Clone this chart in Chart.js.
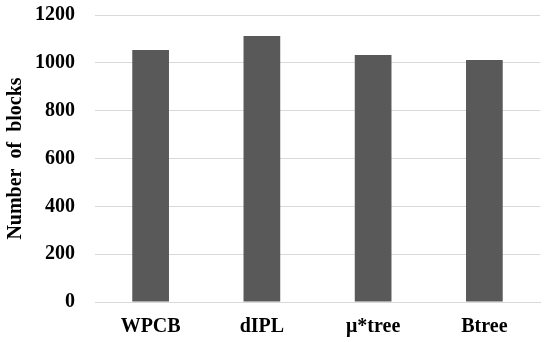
<!DOCTYPE html>
<html>
<head>
<meta charset="utf-8">
<script src="https://cdn.jsdelivr.net/npm/chart.js@4"></script>
<style>
  html, body { margin: 0; padding: 0; background: #fff; }
  #wrap { width: 550px; height: 342px; }
</style>
</head>
<body>
<div id="wrap"><canvas id="grafico" width="550" height="342"></canvas></div>
<script>
// Datos del gráfico
const categorias = ['WPCB', 'dIPL', 'μ*tree', 'Btree'];
const bloques = [1054, 1112, 1033, 1012];
const ticksY = [0, 200, 400, 600, 800, 1000, 1200];

const fuente = { family: '"Liberation Serif", "Times New Roman", serif', weight: 'bold', size: 20 };

const ctx = document.getElementById('grafico').getContext('2d');
new Chart(ctx, {
    type: 'bar',
    data: {
        labels: categorias,
        datasets: [{
            label: 'Number of blocks',
            data: bloques,
            backgroundColor: '#595959',
            borderWidth: 0,
            categoryPercentage: 1,
            barPercentage: 0.33
        }]
    },
    options: {
        responsive: false,
        animation: false,
        layout: { padding: { top: 15, right: 10, left: 1, bottom: 0 } },
        plugins: { legend: { display: false }, tooltip: { enabled: false } },
        scales: {
            x: {
                grid: { display: false, drawTicks: false },
                border: { display: true, color: '#d9d9d9', width: 1 },
                ticks: { color: '#000', font: fuente, padding: 13 },
                afterFit: s => { s.height = 40; }
            },
            y: {
                min: 0,
                max: 1200,
                afterBuildTicks: s => { s.ticks = ticksY.map(v => ({ value: v })); },
                // marcas invisibles: separan las etiquetas sin añadir relleno arriba
                grid: { color: '#d9d9d9', drawTicks: true, tickLength: 20, tickColor: 'rgba(0,0,0,0)' },
                border: { display: false },
                ticks: { color: '#000', font: fuente, padding: 0, callback: v => String(v) },
                title: { display: true, text: 'Number  of  blocks', color: '#000', font: fuente, padding: 3 },
                afterFit: s => { s.width = 94; }
            }
        }
    }
});
</script>
</body>
</html>
